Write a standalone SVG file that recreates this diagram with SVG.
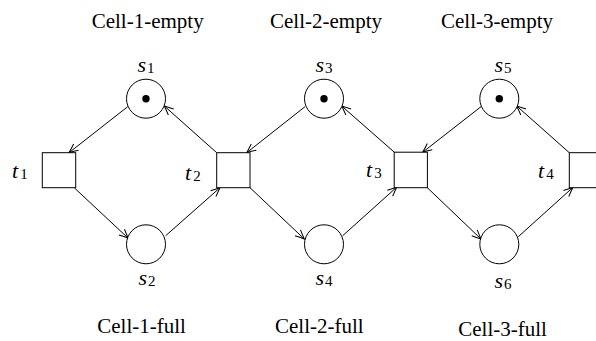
<svg xmlns="http://www.w3.org/2000/svg" width="596" height="341" viewBox="0 0 596 341">
<style>
.pl{fill:#fff;stroke:#000;stroke-width:1}
.tr{fill:#fff;stroke:#000;stroke-width:1}
.tok{fill:#000}
.e{stroke:#000;stroke-width:1;fill:none;marker-end:url(#ah)}
.lab{font-family:"Liberation Serif",serif;font-size:21px;fill:#000}
.m{font-family:"Liberation Serif",serif;font-size:22px;font-style:italic;fill:#000}
.sub{font-style:normal;font-size:15px}
</style>
<defs>
<marker id="ah" markerUnits="userSpaceOnUse" markerWidth="14" markerHeight="14" refX="0" refY="0" viewBox="-10 -7 14 14" orient="auto" overflow="visible">
<path d="M -9 -4 Q -3 -1.2 0 0 Q -3 1.2 -9 4" fill="none" stroke="#000" stroke-width="1"/>
</marker>
</defs>
<g id="connectors">
<line class="e" x1="127.7" y1="106.7" x2="69" y2="152.7"/>
<line class="e" x1="74.5" y1="188" x2="128.3" y2="238.3"/>
<line class="e" x1="165.7" y1="235.7" x2="220" y2="187.7"/>
<line class="e" x1="216.7" y1="152.7" x2="164.3" y2="106"/>
<line class="e" x1="305" y1="106.7" x2="246.7" y2="152.7"/>
<line class="e" x1="250" y1="187.7" x2="304.3" y2="239"/>
<line class="e" x1="342.7" y1="235.7" x2="396.7" y2="187.2"/>
<line class="e" x1="394.3" y1="152.2" x2="341.7" y2="106"/>
<line class="e" x1="481" y1="106.7" x2="422.7" y2="152.2"/>
<line class="e" x1="427.3" y1="187.7" x2="481" y2="239"/>
<line class="e" x1="518.3" y1="236.7" x2="572.8" y2="187.5"/>
<line class="e" x1="569.3" y1="152.7" x2="516.7" y2="106"/>
</g>
<g id="s1"><circle class="pl" cx="146" cy="98.7" r="19.5"/><circle class="tok" cx="146" cy="98.7" r="3.7"/><text class="m" x="137.5" y="72">s<tspan class="sub" dx="1" dy="1">1</tspan></text></g>
<g id="s2"><circle class="pl" cx="146" cy="244.3" r="19.5"/><text class="m" x="138.5" y="285">s<tspan class="sub" dx="1" dy="1">2</tspan></text></g>
<g id="s3"><circle class="pl" cx="324" cy="98.7" r="19.5"/><circle class="tok" cx="324" cy="98.7" r="3.7"/><text class="m" x="315.5" y="72">s<tspan class="sub" dx="1" dy="1">3</tspan></text></g>
<g id="s4"><circle class="pl" cx="324" cy="244.3" r="19.5"/><text class="m" x="315.5" y="285">s<tspan class="sub" dx="1" dy="1">4</tspan></text></g>
<g id="s5"><circle class="pl" cx="499.3" cy="98.7" r="19.5"/><circle class="tok" cx="499.3" cy="98.7" r="3.7"/><text class="m" x="494.5" y="72">s<tspan class="sub" dx="1" dy="1">5</tspan></text></g>
<g id="s6"><circle class="pl" cx="499.3" cy="244.3" r="19.5"/><text class="m" x="494.5" y="288">s<tspan class="sub" dx="1" dy="1">6</tspan></text></g>
<g id="t1"><rect class="tr" x="42.3" y="152.7" width="33.4" height="35"/><text class="m" x="12" y="177.5">t<tspan class="sub" dx="2" dy="1">1</tspan></text></g>
<g id="t2"><rect class="tr" x="216.7" y="152.7" width="33.3" height="35"/><text class="m" x="185" y="179.5">t<tspan class="sub" dx="2" dy="1">2</tspan></text></g>
<g id="t3"><rect class="tr" x="394.2" y="152.2" width="33.2" height="35.5"/><text class="m" x="366" y="177">t<tspan class="sub" dx="2" dy="1">3</tspan></text></g>
<g id="t4"><rect class="tr" x="569.3" y="152.7" width="33.4" height="35"/><text class="m" x="538" y="178">t<tspan class="sub" dx="2" dy="1">4</tspan></text></g>
<g id="labels">
<text class="lab" x="91.7" y="27.5">Cell-1-empty</text>
<text class="lab" x="270" y="27.5">Cell-2-empty</text>
<text class="lab" x="441" y="27.5">Cell-3-empty</text>
<text class="lab" x="97.3" y="333">Cell-1-full</text>
<text class="lab" x="275" y="333">Cell-2-full</text>
<text class="lab" x="458.3" y="336">Cell-3-full</text>
</g>
</svg>
